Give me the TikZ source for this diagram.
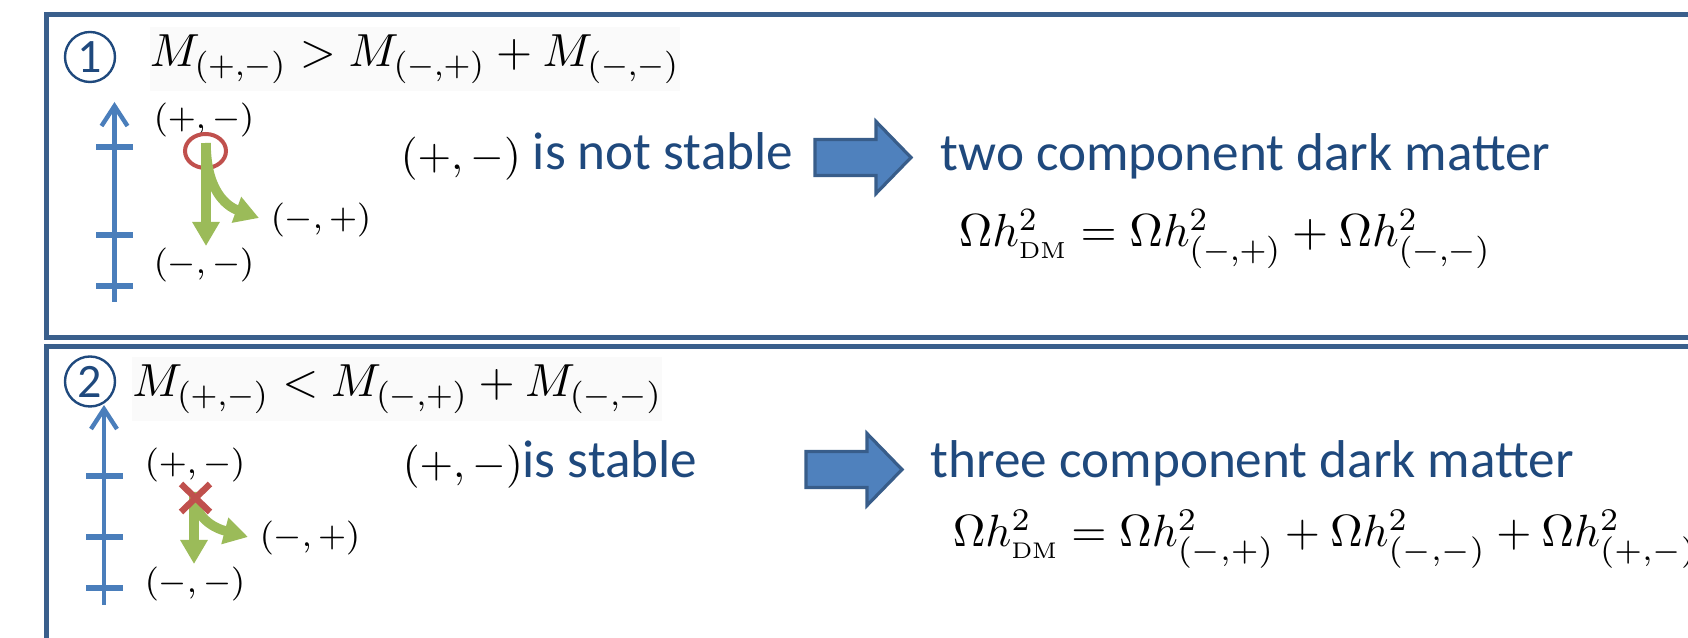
\RequirePackage{fix-cm}
\documentclass[tikz,border=0pt]{standalone}
\usepackage{fontspec}
\newfontfamily\calfont{Carlito}
\usepackage{tikz}
\usetikzlibrary{arrows.meta}
\usepackage{xcolor}
\definecolor{framecol}{RGB}{58,95,140}
\definecolor{axiscol}{RGB}{74,126,187}
\definecolor{textcol}{RGB}{31,73,125}
\definecolor{fillcol}{RGB}{79,129,189}
\definecolor{edgecol}{RGB}{56,93,138}
\definecolor{decaycol}{RGB}{155,187,89}
\definecolor{vetocol}{RGB}{192,80,77}
\tikzset{
  panel/.style  = {draw=framecol, line width=1.25pt},
  ladder/.style = {draw=axiscol, line width=1.1pt,
                   -{Straight Barb[length=5pt, width=6.5pt]}},
  rung/.style   = {draw=axiscol, line width=1.3pt},
  decay/.style  = {draw=decaycol, line width=2.4pt,
                   -{Triangle[width=6.5pt, length=6pt]}},
  veto/.style   = {draw=vetocol, line width=1pt},
  lbl/.style    = {font=\fontsize{8.5}{10}\selectfont, inner sep=0pt},
  eqn/.style    = {font=\fontsize{11.6}{14}\selectfont, inner sep=0pt},
  say/.style    = {font=\fontsize{13.3}{15}\calfont, text=textcol, inner sep=0pt},
  num/.style    = {circle, draw=textcol, line width=0.6pt, minimum size=12.5pt,
                   inner sep=0pt, text=textcol, font=\fontsize{12}{12}\calfont},
  bigarrow/.style = {fill=fillcol, draw=edgecol, line width=0.8pt},
}
\newcommand{\mth}[1]{{\color{black}\fontsize{10.8}{12}\selectfont$#1$}}
\newcommand{\fatarrow}[2]{\draw[bigarrow] (#1,#2-18) -- ++(61,0) -- ++(0,-18)
   -- ++(35,36) -- ++(-35,36) -- ++(0,-18) -- ++(-61,0) -- cycle;}

\begin{document}
\begin{tikzpicture}[x=0.25pt, y=-0.25pt]
\clip (0,0) rectangle (1688,638);
% ---------------- frames ----------------
\draw[panel] (46,15) rectangle (1720,338);
\draw[panel] (46,347) rectangle (1720,680);
% ---------------- case 1 ----------------
\node[num] (n1) at (90,57) {1};
\node[eqn, anchor=base west, fill=black!2, inner ysep=2pt] (c1) at (149,67)
   {$M_{(+,-)} > M_{(-,+)} + M_{(-,-)}$};
\coordinate (b1) at (114.5,302);
\coordinate (t1) at (114.5,102);
\draw[ladder] (b1) -- (t1);
\draw[rung] (96,147) -- (133,147);
\draw[rung] (96,235) -- (133,235);
\draw[rung] (96,286) -- (133,286);
\node[lbl] (pm1) at (204,120) {$(+,-)$};
\node[lbl] (mp1) at (321,220) {$(-,+)$};
\node[lbl] (mm1) at (204,265) {$(-,-)$};
\draw[veto] (205.5,151) ellipse [x radius=20.5, y radius=17];
\coordinate (h1) at (206,143);
\coordinate (l1) at (206,246);
\coordinate (m1) at (259,218);
\draw[decay] (h1) -- (l1);
\draw[decay] (h1) .. controls (206,190) and (226,206) .. (m1);
\node[say, anchor=base west] (s1) at (400,170) {\mth{(+,-)} is not stable};
\fatarrow{815}{157.5}
\node[say, anchor=base west] (r1) at (940,171) {two component dark matter};
\node[eqn, anchor=base west] (o1) at (958,247)
   {$\Omega h^2_{\scriptscriptstyle\rm DM} = \Omega h^2_{(-,+)} + \Omega h^2_{(-,-)}$};
% ---------------- case 2 ----------------
\node[num] (n2) at (90,381.5) {2};
\node[eqn, anchor=base west, fill=black!2, inner ysep=2pt] (c2) at (131.5,397)
   {$M_{(+,-)} < M_{(-,+)} + M_{(-,-)}$};
\coordinate (b2) at (104,605);
\coordinate (t2) at (104,405);
\draw[ladder] (b2) -- (t2);
\draw[rung] (86,476) -- (122.6,476);
\draw[rung] (86,537) -- (122.6,537);
\draw[rung] (86,588) -- (122.6,588);
\node[lbl] (pm2) at (195,465) {$(+,-)$};
\node[lbl] (mp2) at (310,538) {$(-,+)$};
\node[lbl] (mm2) at (195,584) {$(-,-)$};
\coordinate (h2) at (194,492);
\coordinate (l2) at (194,564);
\coordinate (m2) at (248,537);
\draw[decay] (h2) -- (l2);
\draw[decay] (h2) .. controls (194,518) and (214,528) .. (m2);
\draw[veto, line width=1.6pt] (181,484) -- (210,512) (181,512) -- (210,484);
\node[say, anchor=base west] (s2) at (402,478) {\mth{(+,-)}is stable};
\fatarrow{806}{469.5}
\node[say, anchor=base west] (r2) at (930,478) {three component dark matter};
\node[eqn, anchor=base west, font=\fontsize{11.3}{14}\selectfont] (o2) at (952,547)
   {$\Omega h^2_{\scriptscriptstyle\rm DM} = \Omega h^2_{(-,+)} + \Omega h^2_{(-,-)} + \Omega h^2_{(+,-)}$};
\end{tikzpicture}
\end{document}
